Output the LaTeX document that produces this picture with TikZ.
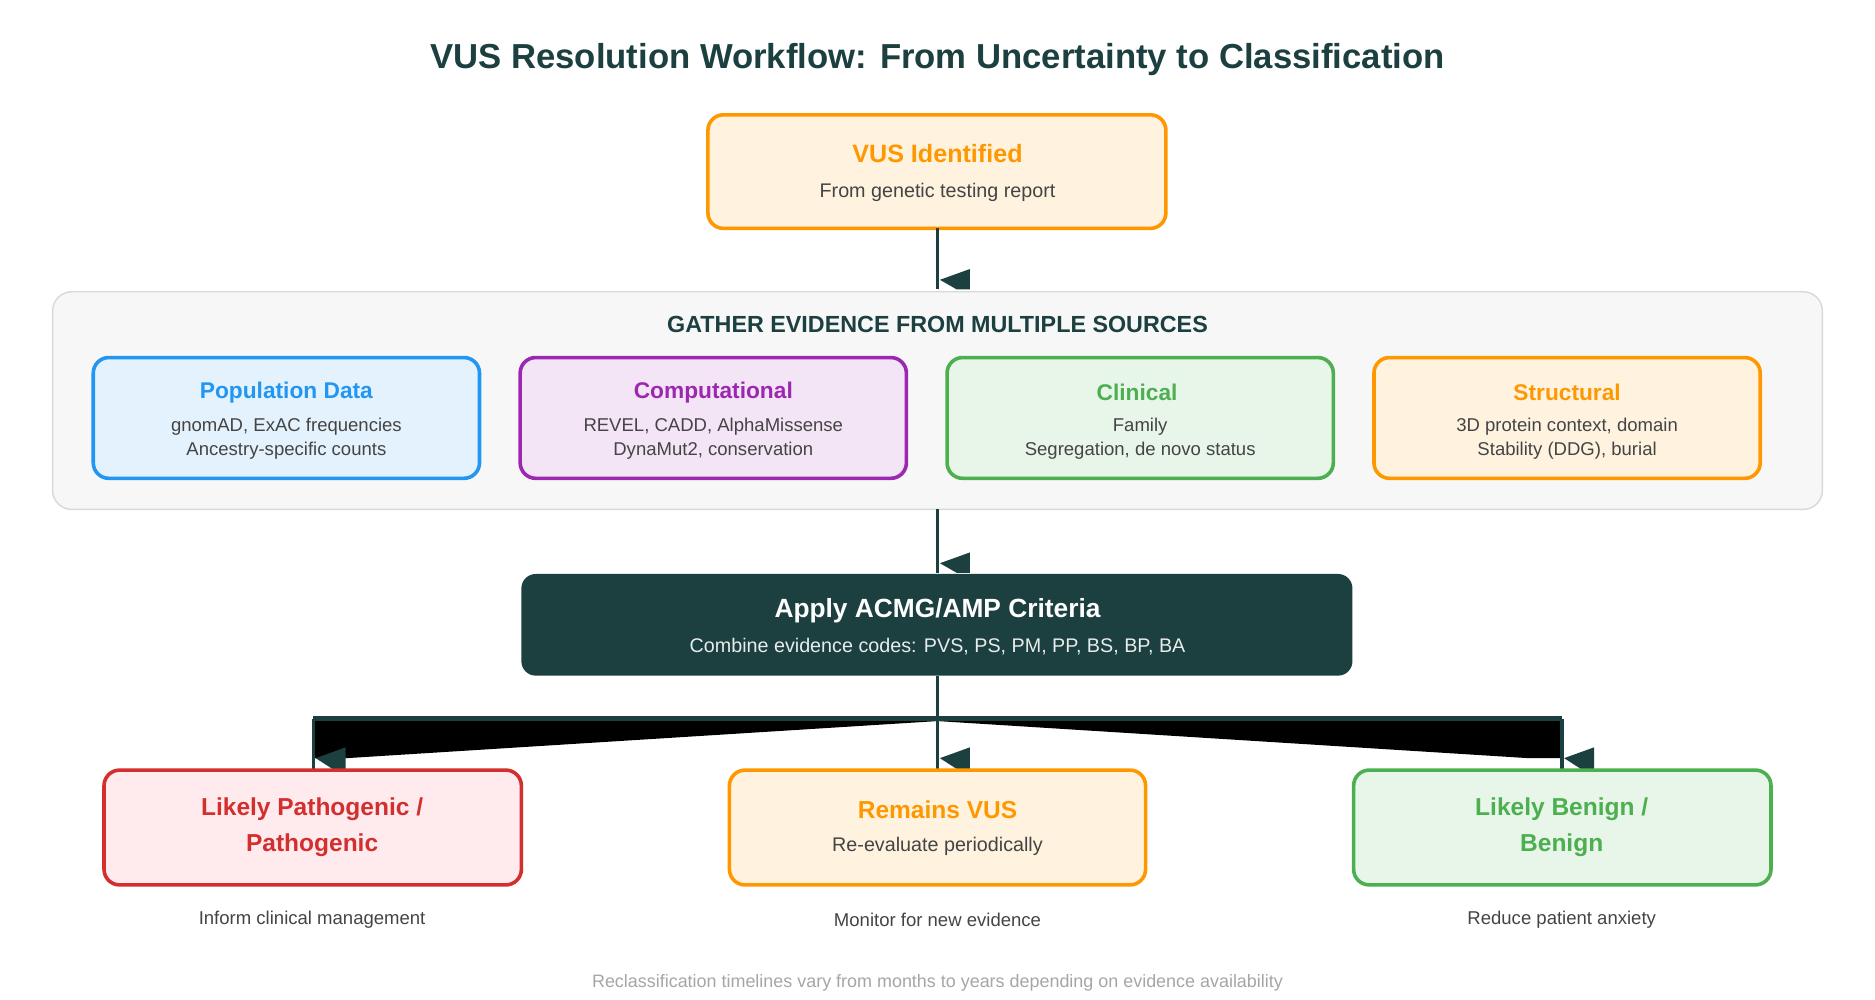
\documentclass[tikz,border=0pt]{standalone}
\usepackage{fontspec}
\setmainfont{Liberation Sans}
\definecolor{dk}{HTML}{1C3F3F}
\definecolor{txt}{HTML}{444444}
\definecolor{orA}{HTML}{FF9800}\definecolor{orF}{HTML}{FFF3E0}
\definecolor{blA}{HTML}{2196F3}\definecolor{blF}{HTML}{E3F2FD}
\definecolor{puA}{HTML}{9C27B0}\definecolor{puF}{HTML}{F3E5F5}
\definecolor{grA}{HTML}{4CAF50}\definecolor{grF}{HTML}{E8F5E9}
\definecolor{reA}{HTML}{D32F2F}\definecolor{reF}{HTML}{FFEBEE}
\newcommand{\fs}[1]{\fontsize{#1}{#1}\selectfont}
\tikzset{
 box/.style={draw=#1A, fill=#1F, line width=3pt, rounded corners=13pt},
 ttl/.style={font=\fs{21}\bfseries, text=#1, align=center},
 sub/.style={font=\fs{16.5}, text=txt, align=center},
 conn/.style={draw=dk, line width=3pt},
 tipsh/.style={fill=dk, draw=none}
}
\begin{document}
\begin{tikzpicture}[x=1pt,y=-1pt]
\useasboundingbox (0,0) rectangle (1568,836);
\fill[white] (0,0) rectangle (1568,836);
\node[font=\fs{29}\bfseries, text=dk] (title) at (784,50) {VUS Resolution Workflow: From Uncertainty to Classification};
% VUS identified
\draw[box=or] (592,96) rectangle (975,191);
\node[ttl=orA] (vt) at (784,128) {VUS Identified};
\node[sub] (vs) at (784,161) {From genetic testing report};
\coordinate (a1) at (784,191); \coordinate (a1e) at (784,242);
% panel
\draw[draw=black!15, fill=black!3, line width=1.2pt, rounded corners=16pt] (44,244) rectangle (1524,426);
\node[font=\fs{19.5}\bfseries, text=dk] (gh) at (784,271) {GATHER EVIDENCE FROM MULTIPLE SOURCES};
\draw[conn] (a1) -- (a1e);
\fill[tipsh] (786,234) -- (811,225) -- (811,242) -- (800,242) -- cycle;
% four
\foreach \x/\c/\t/\la/\lb [count=\i] in {
 78/bl/Population Data/{gnomAD, ExAC frequencies}/{Ancestry-specific counts},
 435/pu/Computational/{REVEL, CADD, AlphaMissense}/{DynaMut2, conservation},
 792/gr/Clinical / Family/{Segregation, de novo status}/{Phenotype match, ClinVar},
 1149/or/Structural/{3D protein context, domain}/{Stability (DDG), burial}}{
 \draw[box=\c] (\x,299) rectangle ++(323,101);
 \node[ttl=\c A, font=\fs{19}\bfseries] (e\i) at (\x+161.5,328) {\t};
 \node[sub, font=\fs{15.5}] (f\i) at (\x+161.5,357) {\la};
 \node[sub, font=\fs{15.5}] (g\i) at (\x+161.5,377) {\lb};
}
\coordinate (a2) at (784,426); \coordinate (a2e) at (784,479);
\draw[conn] (a2) -- (a2e);
\fill[tipsh] (786,471) -- (811,462) -- (811,479) -- (800,479) -- cycle;
% ACMG
\fill[dk, rounded corners=12pt] (436,480) rectangle (1131,565);
\node[font=\fs{22}\bfseries, text=white] (ac) at (784,511) {Apply ACMG/AMP Criteria};
\node[font=\fs{16.5}, text=white!90!dk] (acs) at (784,541) {Combine evidence codes: PVS, PS, PM, PP, BS, BP, BA};
% branches
\coordinate (b0) at (784,565); \coordinate (bj) at (784,601);
\coordinate (bl) at (262,601); \coordinate (br) at (1306,601);
\fill[black] (262,603) -- (784,603) -- (290,634) -- (262,634) -- cycle;
\fill[black] (1306,603) -- (784,603) -- (1278,634) -- (1306,634) -- cycle;
\draw[conn, line width=4pt] (bl) -- (br);
\draw[conn] (bl) -- (262,643);
\draw[conn] (br) -- (1306,643);
\draw[conn] (b0) -- (784,643);
\foreach \x in {262,784,1306}{
 \fill[tipsh] (\x+2,634) -- (\x+27,625) -- (\x+27,643) -- (\x+16,643) -- cycle;}
% bottom boxes
\draw[box=re] (87,644) rectangle (436,740);
\node[ttl=reA, font=\fs{20.5}\bfseries] (lp1) at (261,677) {Likely Pathogenic /};
\node[ttl=reA, font=\fs{20.5}\bfseries] (lp2) at (261,707) {Pathogenic};
\draw[box=or] (610,644) rectangle (958,740);
\node[ttl=orA, font=\fs{20.5}\bfseries] (rv) at (784,677) {Remains VUS};
\node[sub] (rvs) at (784,708) {Re-evaluate periodically};
\draw[box=gr] (1132,644) rectangle (1481,740);
\node[ttl=grA, font=\fs{20.5}\bfseries] (lb1) at (1306,677) {Likely Benign /};
\node[ttl=grA, font=\fs{20.5}\bfseries] (lb2) at (1306,707) {Benign};
\node[sub, font=\fs{15.5}] (c1) at (261,769) {Inform clinical management};
\node[sub, font=\fs{15.5}] (c2) at (784,769) {Monitor for new evidence};
\node[sub, font=\fs{15.5}] (c3) at (1306,769) {Reduce patient anxiety};
\node[font=\fs{15}, text=black!35] (ft) at (784,822) {Reclassification timelines vary from months to years depending on evidence availability};
\end{tikzpicture}
\end{document}
